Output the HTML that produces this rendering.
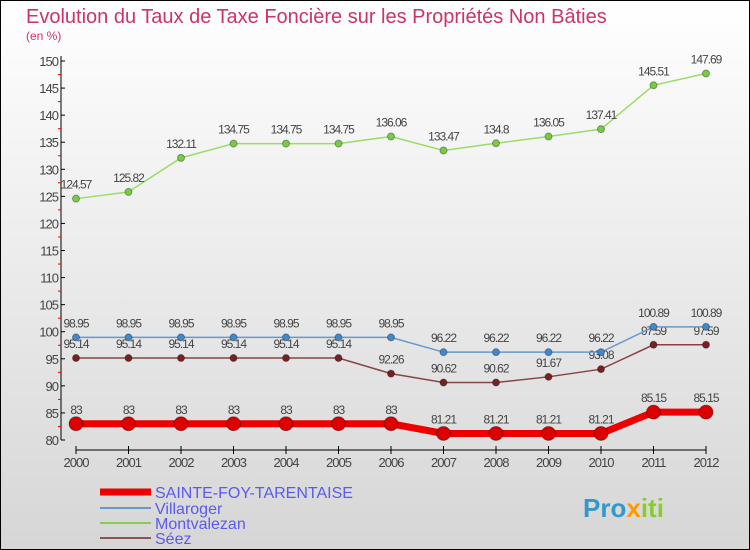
<!DOCTYPE html>
<html><head><meta charset="utf-8"><style>
body{margin:0}
#c{width:750px;height:550px;position:relative;box-sizing:border-box;border:1px solid #000;background:linear-gradient(#ffffff,#d6d6d6);font-family:"Liberation Sans",sans-serif;overflow:hidden}
</style></head><body>
<div id="c">
<svg width="750" height="550" id="svg" style="position:absolute;left:-1px;top:-1px">
<text x="26" y="23" font-size="20" fill="#cc3366">Evolution du Taux de Taxe Foncière sur les Propriétés Non Bâties</text>
<text x="26" y="40" font-size="12" fill="#cc3366">(en %)</text>
<g id="axes"></g><g id="series"></g>
<g>
<line x1="100" y1="492" x2="151" y2="492" stroke="#ee0000" stroke-width="7"/>
<text x="155" y="498" font-size="16" fill="#5a5aee">SAINTE-FOY-TARENTAISE</text>
<line x1="100" y1="508" x2="151" y2="508" stroke="#6699cc" stroke-width="2"/>
<text x="155" y="514" font-size="16" fill="#5a5aee">Villaroger</text>
<line x1="100" y1="523" x2="151" y2="523" stroke="#88cc55" stroke-width="2"/>
<text x="155" y="529" font-size="16" fill="#5a5aee">Montvalezan</text>
<line x1="100" y1="538" x2="151" y2="538" stroke="#885555" stroke-width="2"/>
<text x="155" y="544" font-size="16" fill="#5a5aee">Séez</text>
</g>
<text x="583" y="517" font-size="26" font-weight="bold" fill="#3399cc">Pro<tspan fill="#ff9900">x</tspan><tspan fill="#88cc33">iti</tspan></text>
</svg>
</div>
<script>
const years=[2000,2001,2002,2003,2004,2005,2006,2007,2008,2009,2010,2011,2012];
const sainteFoy=[83,83,83,83,83,83,83,81.21,81.21,81.21,81.21,85.15,85.15];
const villaroger=[98.95,98.95,98.95,98.95,98.95,98.95,98.95,96.22,96.22,96.22,96.22,100.89,100.89];
const montvalezan=[124.57,125.82,132.11,134.75,134.75,134.75,136.06,133.47,134.8,136.05,137.41,145.51,147.69];
const seez=[95.14,95.14,95.14,95.14,95.14,95.14,92.26,90.62,90.62,91.67,93.08,97.59,97.59];
const yTicks=[80,85,90,95,100,105,110,115,120,125,130,135,140,145,150];
const NS="http://www.w3.org/2000/svg";
const X=i=>76+i*52.5;
const Y=v=>440-(v-80)*(379/70);
function mk(tag,attrs,parent){const e=document.createElementNS(NS,tag);for(const k in attrs)e.setAttribute(k,attrs[k]);parent.appendChild(e);return e;}
const ax=document.getElementById('axes');
let l=mk('line',{x1:61,y1:56,x2:61,y2:440,stroke:'#000'},ax);


yTicks.forEach(v=>{
 mk('line',{x1:61,y1:Y(v),x2:65,y2:Y(v),stroke:'#000'},ax);
 if(v<150)mk('line',{x1:58,y1:Y(v+2.5),x2:61,y2:Y(v+2.5),stroke:'#ee0000'},ax);
 const t=mk('text',{x:58,y:Y(v)+5,'font-size':13,fill:'#444','text-anchor':'end','letter-spacing':'-1'},ax);
 t.textContent=v;
 
 
});
l=mk('line',{x1:76,y1:450,x2:706,y2:450,stroke:'#000'},ax);


years.forEach((y,i)=>{
 mk('line',{x1:X(i),y1:446,x2:X(i),y2:454,stroke:'#000'},ax);
 const t=mk('text',{x:X(i),y:467,'font-size':13,fill:'#444','text-anchor':'middle','letter-spacing':'-1'},ax);
 t.textContent=y;
 
 
});
const sg=document.getElementById('series');
function draw(data,color,dot,w,r,name){
 const g=mk('g',{},sg);
 
 
 mk('polyline',{points:data.map((v,i)=>X(i)+','+Y(v)).join(' '),fill:'none',stroke:color,'stroke-width':w},g);
 data.forEach((v,i)=>{
  const c=mk('circle',{cx:X(i),cy:Y(v),r:r,fill:dot,stroke:'#00000055'},g);
  
  
  const t=mk('text',{x:X(i),y:Y(v)-10,'font-size':12,fill:'#444','text-anchor':'middle','letter-spacing':'-1'},g);
  t.textContent=v;
  
  
 });
}
draw(montvalezan,'#99dd66','#77cc44',1.5,3.5,'montvalezan');
draw(seez,'#884444','#772222',1.5,3.5,'seez');
draw(villaroger,'#6699cc','#4488cc',1.5,3.5,'villaroger');
draw(sainteFoy,'#ee0000','#dd0000',7,7,'sainte-foy');
</script>
</body></html>
